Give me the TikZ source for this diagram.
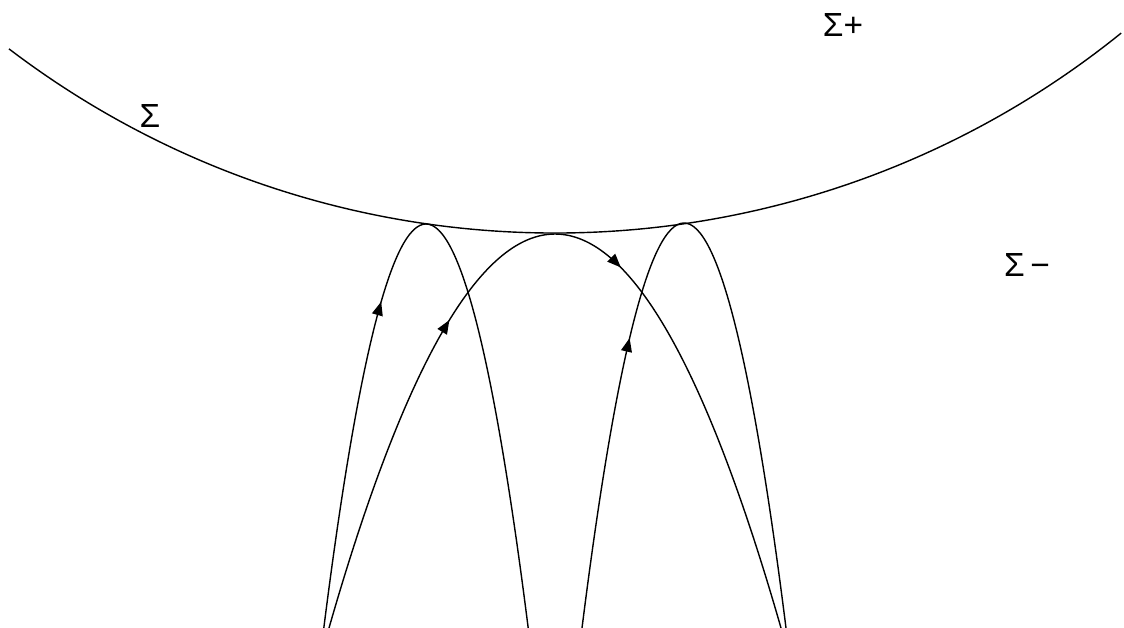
\documentclass[tikz,border=0pt]{standalone}
\usepackage{fontspec}
\setmainfont{Liberation Sans}
\usetikzlibrary{arrows.meta,decorations.markings}

\begin{document}
\begin{tikzpicture}[x=0.01cm,y=0.01cm,
    lbl/.style={font=\fontsize{9.5pt}{11pt}\selectfont},
    flow/.style={postaction={decorate,decoration={markings,
        mark=at position #1 with {\arrow{Triangle[length=3.9pt,width=3.1pt]}}}}}]
  \useasboundingbox (0,0) rectangle (1124,-628);
  % surface Sigma, an arc of a large circle
  \coordinate (ctr) at (555,668.4);
  \draw ([shift={(232.72:901.5)}]ctr) arc[start angle=232.72,end angle=308.91,radius=901.5];
  % trajectories touching Sigma from below
  \draw[flow=0.39] (323.8,-628) .. controls (391.9,-89.3) and (460.1,-89.3) .. (528.2,-628);
  \draw[flow=0.35,flow=0.58] (329,-628) .. controls (479.7,-102.7) and (630.3,-102.7) .. (781,-628);
  \draw[flow=0.345] (582,-628) .. controls (650,-88) and (718,-88) .. (786,-628);
  % labels
  \node[lbl] (sig)    at (150,-116)  {Σ};
  \node[lbl] (splus)  at (843,-25)   {Σ+};
  \node[lbl] (sminus) at (1027,-265) {Σ\,−};
\end{tikzpicture}
\end{document}
